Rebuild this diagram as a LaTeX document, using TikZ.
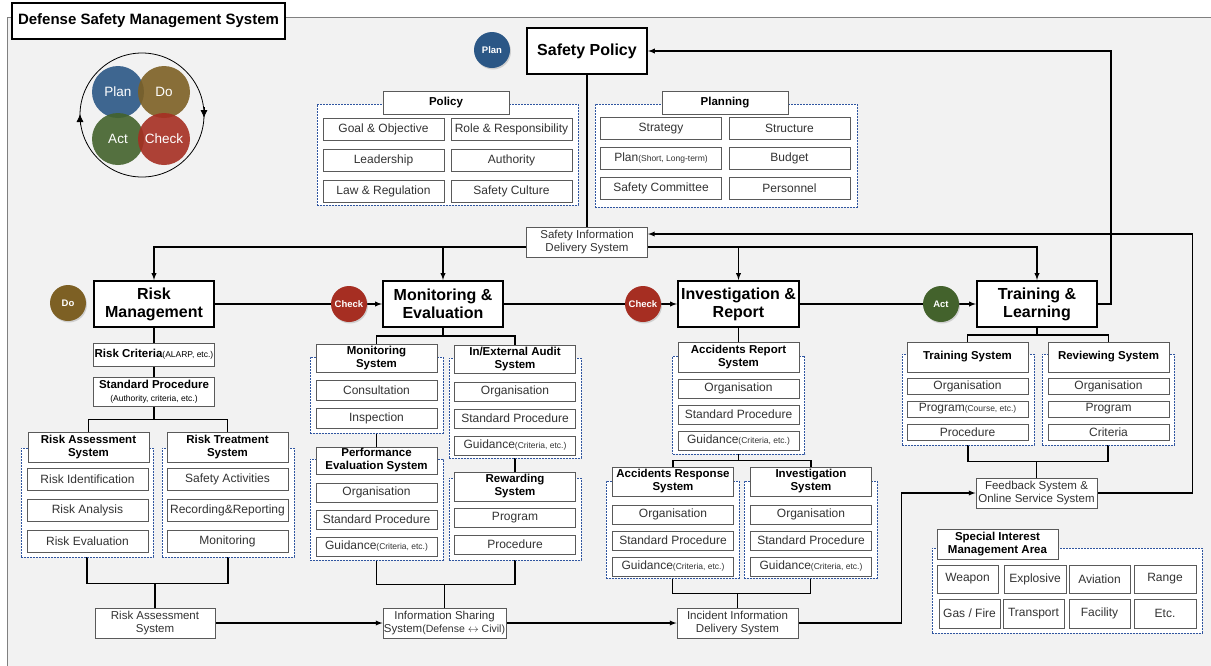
\documentclass[tikz,border=0pt]{standalone}
\usepackage{fontspec}
\setmainfont{Liberation Sans}
\usetikzlibrary{positioning}
\usetikzlibrary{shadows}
\usetikzlibrary{arrows.meta}

\definecolor{plancol}{HTML}{2B5786}
\definecolor{docol}{HTML}{7D6024}
\definecolor{actcol}{HTML}{43622C}
\definecolor{checkcol}{HTML}{A62E22}
\definecolor{dashblue}{HTML}{2F55A0}
\definecolor{bggray}{HTML}{F2F2F2}
\definecolor{boxgray}{HTML}{5A5A5A}

\newcommand{\fsz}[2]{\fontsize{#1}{#2}\selectfont}
\newcommand{\paren}[1]{{\fsz{8.5}{10}\mdseries #1}}

\pgfdeclarelayer{background}
\pgfdeclarelayer{lines}
\pgfsetlayers{background,lines,main}

\tikzset{
  conn/.style={line width=1.3pt},
  arr/.style={conn,-latex},
  titlebox/.style={rectangle,draw,line width=1.6pt,fill=white,minimum width=273pt,
    minimum height=36pt,inner sep=0pt,font=\bfseries\fsz{15}{16}},
  mainbox/.style={rectangle,draw,line width=2.2pt,fill=white,minimum width=120pt,
    minimum height=46pt,inner sep=0pt,align=center,font=\bfseries\fsz{16}{18}},
  headbox/.style={rectangle,draw=boxgray,line width=1pt,fill=white,minimum width=121pt,
    minimum height=29pt,inner sep=0pt,align=center,font=\bfseries\fsz{11.5}{13}},
  itembox/.style={rectangle,draw=boxgray,line width=1pt,fill=white,text=black!80,
    minimum width=121pt,minimum height=#1,inner sep=0pt,align=center,font=\fsz{12}{14}},
  itembox/.default=22pt,
  infobox/.style={itembox=30pt,font=\fsz{11.5}{13}},
  grpbox/.style 2 args={rectangle,draw=dashblue,dash pattern=on 2pt off 1pt,
    line width=0.9pt,fill=white,minimum width=#1,minimum height=#2,inner sep=0pt},
  phasedot/.style={circle,fill=#1,text=white,minimum size=36pt,inner sep=0pt,
    font=\bfseries\fsz{9.5}{10},
    drop shadow={opacity=0.3,shadow xshift=1pt,shadow yshift=-1.5pt}},
  pdca/.style={circle,fill=#1,fill opacity=0.9,text opacity=1,text=white,
    minimum size=52pt,inner sep=0pt,font=\fsz{13.5}{14}},
  cycle/.style={line width=0.8pt,-{Latex[length=8pt,width=7pt]}},
}

\begin{document}
\begin{tikzpicture}[x=1pt,y=-1pt]
\useasboundingbox (0,0) rectangle (1211,665);
\begin{pgfonlayer}{background}
  \draw[draw=gray,fill=bggray] (7,17) rectangle (1240,700);
\end{pgfonlayer}

% title and cycle
\node (title) [titlebox] at (148.5,21) {Defense Safety Management System};
\coordinate (cyc) at (142,115);
\draw[line width=0.8pt] (cyc) circle[radius=62];
\draw[cycle] ([shift={(-62,10)}]cyc) -- ([shift={(-62,-1)}]cyc);
\draw[cycle] ([shift={(62,-8)}]cyc) -- ([shift={(62,3)}]cyc);
\node (cplan) [pdca=plancol] at (118,92) {Plan};
\node (cdo) [pdca=docol] at (164,92) {Do};
\node (cact) [pdca=actcol] at (118,139) {Act};
\node (ccheck) [pdca=checkcol] at (164,139) {Check};

% plan: safety policy
\node (plan) [phasedot=plancol] at (492,50) {Plan};
\node (policy) [mainbox] at (587,51) {Safety Policy};

\node (polgrp) [grpbox={261pt}{101pt}] at (447.5,154.5) {};
\node (polhead) [headbox,minimum width=126pt,minimum height=23pt] at (446,102.5) {Policy};
\node (goal) [itembox] at (383.5,129.5) {Goal \& Objective};
\node (lead) [itembox,below=8pt of goal] {Leadership};
\node (law) [itembox,below=8pt of lead] {Law \& Regulation};
\node (role) [itembox] at (511.5,129.5) {Role \& Responsibility};
\node (auth) [itembox,below=8pt of role] {Authority};
\node (cult) [itembox,below=8pt of auth] {Safety Culture};

\node (plangrp) [grpbox={262pt}{103pt}] at (726,155.5) {};
\node (planhead) [headbox,minimum width=126pt,minimum height=23pt] at (725,102.5) {Planning};
\node (strat) [itembox] at (661,128.5) {Strategy};
\node (plans) [itembox,below=7pt of strat] {Plan\paren{(Short, Long-term)}};
\node (commit) [itembox,below=7pt of plans] {Safety Committee};
\node (struct) [itembox] at (789.5,128.5) {Structure};
\node (budget) [itembox,below=7pt of struct] {Budget};
\node (staff) [itembox,below=7pt of budget] {Personnel};

\node (sids) [infobox] at (587,242) {Safety Information\\Delivery System};

% do: risk management
\node (do) [phasedot=docol] at (68,303) {Do};
\node (rm) [mainbox] at (154,304) {Risk\\Management};
\node (crit) [headbox,minimum height=23pt] at (154,354.5) {Risk Criteria\paren{(ALARP, etc.)}};
\node (stdp) [headbox] at (154,391.5) {Standard Procedure\\\paren{(Authority, criteria, etc.)}};
\node (rasgrp) [grpbox={132pt}{109pt}] at (87,502.5) {};
\node (rtsgrp) [grpbox={132pt}{109pt}] at (228,502.5) {};
\node (ras) [headbox,minimum height=30pt] at (88.5,447) {Risk Assessment\\System};
\node (rts) [headbox,minimum height=30pt] at (227.5,447) {Risk Treatment\\System};
\node (rident) [itembox] at (87.5,479) {Risk Identification};
\node (ranal) [itembox,below=8pt of rident] {Risk Analysis};
\node (reval) [itembox,below=8pt of ranal] {Risk Evaluation};
\node (sact) [itembox] at (227.5,479) {Safety Activities};
\node (recrep) [itembox,below=8pt of sact] {Recording\&Reporting};
\node (rmon) [itembox,below=8pt of recrep] {Monitoring};
\node (rasys) [infobox,minimum width=120pt] at (155,623) {Risk Assessment\\System};

% check: monitoring & evaluation
\node (chk1) [phasedot=checkcol] at (349,304) {Check};
\node (me) [mainbox] at (443,304) {Monitoring \&\\Evaluation};
\node (msgrp) [grpbox={133pt}{76pt}] at (376.5,395) {};
\node (ms) [headbox,minimum height=28pt] at (376.5,358) {Monitoring\\System};
\node (consult) [itembox=20pt] at (376.5,390) {Consultation};
\node (insp) [itembox=20pt,below=7pt of consult] {Inspection};
\node (pesgrp) [grpbox={133pt}{101pt}] at (376.5,509.5) {};
\node (pes) [headbox,minimum height=27pt] at (376.5,460.5) {Performance\\Evaluation System};
\node (pesorg) [itembox=19pt] at (376.5,492.5) {Organisation};
\node (pesstd) [itembox=19pt,below=7pt of pesorg] {Standard Procedure};
\node (pesgui) [itembox=19pt,below=7pt of pesstd] {Guidance\paren{(Criteria, etc.)}};
\node (audgrp) [grpbox={132pt}{100pt}] at (515,408) {};
\node (aud) [headbox,minimum height=28pt] at (515,359) {In/External Audit\\System};
\node (audorg) [itembox=19pt] at (515,391.5) {Organisation};
\node (audstd) [itembox=19pt,below=7pt of audorg] {Standard Procedure};
\node (audgui) [itembox=19pt,below=7pt of audstd] {Guidance\paren{(Criteria, etc.)}};
\node (rewgrp) [grpbox={132pt}{82pt}] at (515,519) {};
\node (rew) [headbox,minimum height=29pt] at (515,486.5) {Rewarding\\System};
\node (rewprog) [itembox=19pt] at (515,517.5) {Program};
\node (rewproc) [itembox=19pt,below=7pt of rewprog] {Procedure};
\node (infos) [infobox,minimum width=123pt] at (444.5,623)
  {Information Sharing\\System{\fsz{10.5}{12}(Defense $\leftrightarrow$ Civil)}};

% check: investigation & report
\node (chk2) [phasedot=checkcol] at (643,304) {Check};
\node (ir) [mainbox,minimum width=121pt] at (738.5,304) {Investigation \&\\Report};
\node (argrp) [grpbox={132pt}{98pt}] at (738.5,405) {};
\node (ar) [headbox,minimum height=30pt] at (738.5,357) {Accidents Report\\System};
\node (arorg) [itembox=19pt] at (738.5,388.5) {Organisation};
\node (arstd) [itembox=19pt,below=6pt of arorg] {Standard Procedure};
\node (argui) [itembox=19pt,below=6pt of arstd] {Guidance\paren{(Criteria, etc.)}};
\node (respgrp) [grpbox={133pt}{97pt}] at (672.5,529.5) {};
\node (resp) [headbox] at (673,481.5) {Accidents Response\\System};
\node (resporg) [itembox=19pt] at (673,514.5) {Organisation};
\node (respstd) [itembox=19pt,below=6pt of resporg] {Standard Procedure};
\node (respgui) [itembox=19pt,below=6pt of respstd] {Guidance\paren{(Criteria, etc.)}};
\node (invgrp) [grpbox={133pt}{97pt}] at (810.5,529.5) {};
\node (inv) [headbox] at (811,481.5) {Investigation\\System};
\node (invorg) [itembox=19pt] at (811,514.5) {Organisation};
\node (invstd) [itembox=19pt,below=6pt of invorg] {Standard Procedure};
\node (invgui) [itembox=19pt,below=6pt of invstd] {Guidance\paren{(Criteria, etc.)}};
\node (iid) [infobox] at (737.5,623) {Incident Information\\Delivery System};

% act: training & learning
\node (act) [phasedot=actcol] at (941,304) {Act};
\node (tl) [mainbox] at (1037,304) {Training \&\\Learning};
\node (trsgrp) [grpbox={132pt}{91pt}] at (968,399.5) {};
\node (trs) [headbox,minimum height=30pt] at (967.5,357) {Training System};
\node (trsorg) [itembox=16pt] at (967.5,386) {Organisation};
\node (trsprog) [itembox=16pt,below=6pt of trsorg] {Program\paren{(Course, etc.)}};
\node (trsproc) [itembox=16pt,below=6pt of trsprog] {Procedure};
\node (rvsgrp) [grpbox={132pt}{91pt}] at (1108,399.5) {};
\node (rvs) [headbox,minimum height=30pt] at (1108.5,357) {Reviewing System};
\node (rvsorg) [itembox=16pt] at (1108.5,386) {Organisation};
\node (rvsprog) [itembox=16pt,below=6pt of rvsorg] {Program};
\node (rvscrit) [itembox=16pt,below=6pt of rvsprog] {Criteria};
\node (fb) [infobox] at (1036.5,493) {Feedback System \&\\Online Service System};

% special interest area
\node (simagrp) [grpbox={270pt}{85pt}] at (1067,590.5) {};
\node (sima) [headbox,minimum height=30pt] at (997.5,544) {Special Interest\\Management Area};
\node (weapon) [itembox=28pt,minimum width=61pt] at (967.5,579) {Weapon};
\node (explo) [itembox=28pt,minimum width=62pt] at (1035,579) {Explosive};
\node (avia) [itembox=28pt,minimum width=61pt] at (1099.5,579) {Aviation};
\node (range) [itembox=28pt,minimum width=62pt] at (1165,579) {Range};
\node (gas) [itembox=29pt,minimum width=61pt] at (969.5,613.5) {Gas / Fire};
\node (trans) [itembox=29pt,minimum width=61pt] at (1033.5,613.5) {Transport};
\node (facil) [itembox=29pt,minimum width=61pt] at (1099.5,613.5) {Facility};
\node (etc) [itembox=29pt,minimum width=62pt] at (1165,613.5) {Etc.};

\begin{pgfonlayer}{lines}
  \draw[conn] (policy) -- (sids);
  \draw[arr] ([yshift=-5pt]sids.west) -| (rm.north);
  \draw[arr] ([yshift=-5pt]sids.west) -| (me.north);
  \draw[arr] ([yshift=-5pt]sids.east) -| (ir.north);
  \draw[arr] ([yshift=-5pt]sids.east) -| (tl.north);
  \draw[arr] (tl.east) -- ++(13,0) |- (policy.east);
  \draw[arr] (fb.east) -- ++(95,0) |- ([yshift=8pt]sids.east);
  \draw[arr] (rm) -- (me);
  \draw[arr] (me) -- (ir);
  \draw[arr] (ir) -- (tl);
  % risk management tree
  \draw[conn] (rm) -- (crit);
  \draw[conn] (crit) -- (stdp);
  \draw[conn] (stdp.south) -- ++(0,13) -| (ras.north);
  \draw[conn] (stdp.south) -- ++(0,13) -| (rts.north);
  \draw[conn] (rasgrp.south) -- ++(0,26) -| (rtsgrp.south);
  \draw[conn] (rasys.north) -- ++(0,-25);
  \draw[arr] (rasys) -- (infos);
  % monitoring tree
  \draw[conn] (me.south) -- ++(0,8) -| (ms.north);
  \draw[conn] (me.south) -- ++(0,8) -| (aud.north);
  \draw[conn] (msgrp) -- (pes);
  \draw[conn] (audgrp) -- (rew);
  \draw[conn] (pesgrp.south) -- ++(0,24) -| (rewgrp.south);
  \draw[conn] (infos.north) -- ++(0,-24);
  \draw[arr] (infos) -- (iid);
  % investigation tree
  \draw[conn] (ir) -- (ar);
  \draw[conn] (argrp.south) -- ++(0,6) -| (resp.north);
  \draw[conn] (argrp.south) -- ++(0,6) -| (inv.north);
  \draw[conn] (respgrp.south) -- ++(0,15) -| (invgrp.south);
  \draw[conn] (iid.north) -- ++(0,-15);
  \draw[arr] (iid.east) -- ++(103,0) |- (fb.west);
  % training tree
  \draw[conn] (tl.south) -- ++(0,7) -| (trs.north);
  \draw[conn] (tl.south) -- ++(0,7) -| (rvs.north);
  \draw[conn] (trsgrp.south) -- ++(0,16) -| (rvsgrp.south);
  \draw[conn] (fb.north) -- ++(0,-17);
\end{pgfonlayer}
\end{tikzpicture}
\end{document}
